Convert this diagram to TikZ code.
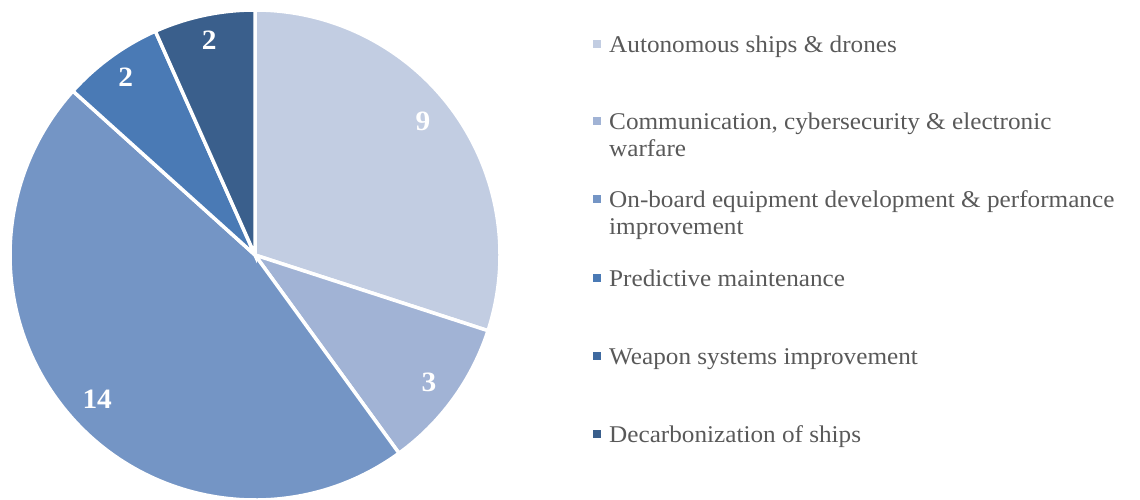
\documentclass[tikz,border=0pt]{standalone}
\usepackage{fontspec}
\setmainfont{Liberation Serif}[FakeStretch=1.05]
\definecolor{cA}{HTML}{C2CDE2}
\definecolor{cB}{HTML}{A1B3D5}
\definecolor{cC}{HTML}{7495C5}
\definecolor{cD}{HTML}{4A7AB5}
\definecolor{cE}{HTML}{3F6AA0}
\definecolor{cF}{HTML}{3A5F8C}
\definecolor{legtext}{HTML}{595959}
\tikzset{
  slice/.style={draw=white, line width=3.5pt},
  val/.style={text=white, font=\fontsize{28}{28}\selectfont\bfseries, inner sep=0pt},
  marker/.style={minimum size=8pt, inner sep=0pt, draw=none},
  legend/.style={anchor=base west, inner sep=0pt, text=legtext, font=\fontsize{24}{27}\selectfont}
}
\begin{document}
\begin{tikzpicture}[x=1pt,y=1pt]
\useasboundingbox (0,0) rectangle (1140,500);
\coordinate (O) at (255,245);
% slices
\fill[cA, slice] (O) -- ++(90:245) arc[start angle=90, end angle=-18, radius=245] -- cycle;
\fill[cB, slice] (O) -- ++(-18:245) arc[start angle=-18, end angle=-54, radius=245] -- cycle;
\fill[cC, slice] (O) -- ++(-54:245) arc[start angle=-54, end angle=-222, radius=245] -- cycle;
\fill[cD, slice] (O) -- ++(-222:245) arc[start angle=-222, end angle=-246, radius=245] -- cycle;
\fill[cF, slice] (O) -- ++(-246:245) arc[start angle=-246, end angle=-270, radius=245] -- cycle;
% value labels
\node[val] (v9)  at ([shift={(38.6:215)}]O) {9};
\node[val] (v3)  at ([shift={(-36.3:216)}]O) {3};
\node[val] (v14) at ([shift={(222.5:214)}]O) {14};
\node[val] (v2a) at ([shift={(126:220)}]O) {2};
\node[val] (v2b) at ([shift={(102:220)}]O) {2};
% legend
\node[marker, fill=cA] (m1) at (597,{500-44.5}) {};
\node[legend] (t1) at (609,{500-53}) {Autonomous ships \& drones};
\node[marker, fill=cB] (m2) at (597,{500-121.5}) {};
\node[legend] (t2) at (609,{500-130}) {\begin{tabular}[t]{@{}l@{}}Communication, cybersecurity \& electronic\\warfare\end{tabular}};
\node[marker, fill=cC] (m3) at (597,{500-199.5}) {};
\node[legend] (t3) at (609,{500-208}) {\begin{tabular}[t]{@{}l@{}}On-board equipment development \& performance\\improvement\end{tabular}};
\node[marker, fill=cD] (m4) at (597,{500-278}) {};
\node[legend] (t4) at (609,{500-286.5}) {Predictive maintenance};
\node[marker, fill=cE] (m5) at (597,{500-356.5}) {};
\node[legend] (t5) at (609,{500-365}) {Weapon systems improvement};
\node[marker, fill=cF] (m6) at (597,{500-434.5}) {};
\node[legend] (t6) at (609,{500-443}) {Decarbonization of ships};
\end{tikzpicture}
\end{document}
